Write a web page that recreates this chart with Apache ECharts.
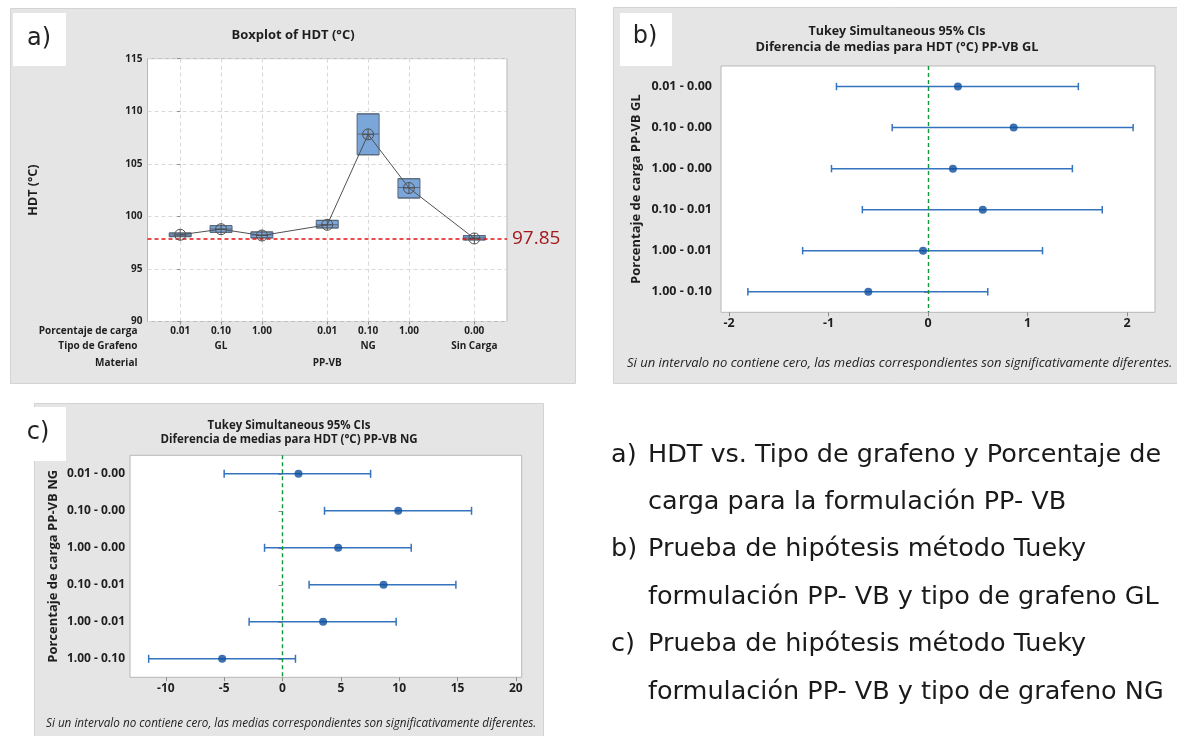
<!DOCTYPE html>
<html>
<head>
<meta charset="utf-8">
<script src="https://cdn.jsdelivr.net/npm/echarts@6/dist/echarts.min.js"></script>
<style>
  html, body { margin: 0; padding: 0; background: #ffffff; }
  #chart { width: 1177px; height: 736px; }
</style>
</head>
<body>
<div id="chart"></div>
<script>
// ---- a) HDT boxplots by loading / graphene type / material ----
const loadLabels = ['0.01', '0.10', '1.00', '0.01', '0.10', '1.00', '0.00'];
const slotPos = [0, 1, 2, 3.6, 4.6, 5.6, 7.2];
const grapheneTypes = ['GL', 'NG', 'Sin Carga'];
const grapheneTypePos = [1, 4.6, 7.2];
const materialLabels = ['PP-VB'];
const materialPos = [3.6];
const hdtQ1 = [98.07, 98.48, 97.95, 98.90, 105.86, 101.75, 97.76];
const hdtMedian = [98.22, 98.80, 98.23, 99.20, 107.83, 102.75, 97.95];
const hdtQ3 = [98.42, 99.12, 98.52, 99.62, 109.75, 103.58, 98.17];
const hdtMean = [98.25, 98.78, 98.18, 99.20, 107.80, 102.70, 97.90];
const refValue = 97.85;
const slotRange = [-0.8, 8.0];

// ---- b) and c) Tukey simultaneous 95% CIs ----
const pairLabels = ['0.01 - 0.00', '0.10 - 0.00', '1.00 - 0.00', '0.10 - 0.01', '1.00 - 0.01', '1.00 - 0.10'];
const glDiff = [0.30, 0.86, 0.25, 0.55, -0.05, -0.60];
const glLower = [-0.92, -0.36, -0.97, -0.66, -1.26, -1.81];
const glUpper = [1.51, 2.06, 1.45, 1.75, 1.15, 0.60];
const glTicks = [-2, -1, 0, 1, 2];
const ngDiff = [1.37, 9.92, 4.77, 8.66, 3.48, -5.17];
const ngLower = [-5.00, 3.60, -1.54, 2.28, -2.86, -11.47];
const ngUpper = [7.55, 16.20, 11.03, 14.86, 9.74, 1.11];
const ngTicks = [-10, -5, 0, 5, 10, 15, 20];

const captionLines = [
  ['a)', 'HDT vs. Tipo de grafeno y Porcentaje de'],
  ['', 'carga para la formulación PP- VB'],
  ['b)', 'Prueba de hipótesis método Tueky'],
  ['', 'formulación PP- VB y tipo de grafeno GL'],
  ['c)', 'Prueba de hipótesis método Tueky'],
  ['', 'formulación PP- VB y tipo de grafeno NG']
];
const footnote = 'Si un intervalo no contiene cero, las medias correspondientes son significativamente diferentes.';

const FONT = '"Open Sans", "Noto Sans", sans-serif';
const CAPTION_FONT = '25.5px "DejaVu Sans", sans-serif';
const INK = '#1e1e1e';
const TICK = '#8c8c8c';
const CI_LINE = '#3473bd';
const CI_DOT = '#0c4e9e';
const REF_RED = '#e31010';
const ZERO_GREEN = '#13953a';

const chart = echarts.init(document.getElementById('chart'), null, { renderer: 'canvas' });

function labelAt(labels, positions) {
  return function (v) {
    for (let i = 0; i < positions.length; i++) {
      if (Math.abs(positions[i] - v) < 1e-6) return labels[i];
    }
    return '';
  };
}

// one row of category text under the boxplot, drawn by its own value axis
function rowAxis(offset, labels, positions, name) {
  return {
    type: 'value', gridIndex: 0, position: 'bottom', offset: offset,
    min: slotRange[0], max: slotRange[1],
    axisLine: { show: false }, axisTick: { show: false }, splitLine: { show: false },
    axisLabel: {
      customValues: positions, formatter: labelAt(labels, positions),
      margin: 0, verticalAlign: 'middle', color: INK, fontSize: 10, fontWeight: 'bold', fontFamily: FONT
    },
    name: name, nameLocation: 'start', nameGap: 10,
    nameTextStyle: { color: INK, fontSize: 10, fontWeight: 'bold', fontFamily: FONT, align: 'right', verticalAlign: 'middle' }
  };
}

function ciRender(capHalf) {
  return function (params, api) {
    const row = api.value(0);
    const p0 = api.coord([api.value(1), row]);
    const p1 = api.coord([api.value(2), row]);
    const st = { stroke: CI_LINE, lineWidth: 1.5 };
    return {
      type: 'group',
      children: [
        { type: 'line', shape: { x1: p0[0], y1: p0[1], x2: p1[0], y2: p1[1] }, style: st },
        { type: 'line', shape: { x1: p0[0], y1: p0[1] - capHalf, x2: p0[0], y2: p0[1] + capHalf }, style: st },
        { type: 'line', shape: { x1: p1[0], y1: p1[1] - capHalf, x2: p1[0], y2: p1[1] + capHalf }, style: st }
      ]
    };
  };
}

// dashed vertical line at zero difference, spanning the full plot height
function zeroSeries(xIdx, yIdx) {
  return {
    type: 'line', xAxisIndex: xIdx, yAxisIndex: yIdx, data: [],
    lineStyle: { color: ZERO_GREEN }, itemStyle: { color: ZERO_GREEN },
    z: 6,
    markLine: {
      silent: true, symbol: 'none',
      lineStyle: { color: ZERO_GREEN, type: [4, 3], width: 1.4 },
      label: { show: false },
      data: [{ xAxis: 0 }]
    }
  };
}

const meanSymbol = 'path://M10 0A10 10 0 1 1 10 20A10 10 0 1 1 10 0ZM0 10L20 10M10 0L10 20';

// background panels, label boxes, titles and captions
const g = [];
function panel(x, y, w, h) {
  g.push({ type: 'rect', z: -100, shape: { x: x, y: y, width: w, height: h },
    style: { fill: '#e5e5e5', stroke: '#d3d3d3', lineWidth: 1 } });
}
function tag(x, y, w, h, text, cx, cy) {
  g.push({ type: 'rect', z: 50, shape: { x: x, y: y, width: w, height: h }, style: { fill: '#ffffff' } });
  g.push({ type: 'text', z: 51, x: cx, y: cy,
    style: { text: text, font: '24px "DejaVu Sans", sans-serif', fill: '#222', align: 'center', verticalAlign: 'middle' } });
}
function txt(x, y, text, font, align, color) {
  g.push({ type: 'text', z: 60, x: x, y: y,
    style: { text: text, font: font, fill: color || INK, align: align || 'center', verticalAlign: 'middle' } });
}
panel(10.5, 8.5, 565, 375);
panel(613.5, 7.5, 570, 376);
panel(34.5, 403.5, 509, 340);
tag(13, 13, 53, 53, 'a)', 39, 39);
tag(620, 13, 52, 53, 'b)', 645, 37);
tag(17, 407, 49, 54, 'c)', 38, 433);

txt(293, 35, 'Boxplot of HDT (°C)', 'bold 13px ' + FONT);
txt(897, 31, 'Tukey Simultaneous 95% CIs', 'bold 12.5px ' + FONT);
txt(897, 47, 'Diferencia de medias para HDT (°C) PP-VB GL', 'bold 12.8px ' + FONT);
txt(289, 425.5, 'Tukey Simultaneous 95% CIs', 'bold 11.5px ' + FONT);
txt(289, 440, 'Diferencia de medias para HDT (°C) PP-VB NG', 'bold 11.5px ' + FONT);
txt(627, 363, footnote, 'italic 13px ' + FONT, 'left');
txt(46, 724, footnote, 'italic 11.7px ' + FONT, 'left');

captionLines.forEach(function (ln, i) {
  const y = 455 + i * 47.4;
  if (ln[0]) txt(611, y, ln[0], CAPTION_FONT, 'left', '#1a1a1a');
  txt(648, y, ln[1], CAPTION_FONT, 'left', '#1a1a1a');
});

const axisLabelStyle = { color: INK, fontWeight: 'bold', fontFamily: FONT };

const option = {
  animation: false,
  backgroundColor: '#ffffff',
  textStyle: { fontFamily: FONT },
  grid: [
    { left: 147.5, top: 58.7, width: 359.5, height: 262.8, show: true, backgroundColor: '#ffffff', borderColor: '#b7b7b7', borderWidth: 1 },
    { left: 721, top: 66, width: 434, height: 246.3, show: true, backgroundColor: '#ffffff', borderColor: '#b7b7b7', borderWidth: 1 },
    { left: 130, top: 455.3, width: 391.7, height: 222, show: true, backgroundColor: '#ffffff', borderColor: '#b7b7b7', borderWidth: 1 }
  ],
  xAxis: [
    { // tick marks and vertical grid lines of the boxplot
      type: 'value', gridIndex: 0, min: slotRange[0], max: slotRange[1],
      axisLine: { show: false },
      axisLabel: { show: false },
      axisTick: { show: true, customValues: slotPos, length: 3, lineStyle: { color: TICK } },
      splitLine: { show: true, lineStyle: { color: '#d9d9d9', type: [4, 3] } }
    },
    rowAxis(10, loadLabels, slotPos, 'Porcentaje de carga'),
    rowAxis(25, grapheneTypes, grapheneTypePos, 'Tipo de Grafeno'),
    rowAxis(42, materialLabels, materialPos, 'Material'),
    {
      type: 'value', gridIndex: 1, min: -2.08, max: 2.28,
      axisLine: { show: false },
      axisTick: { show: true, customValues: glTicks, length: 4, lineStyle: { color: TICK } },
      axisLabel: Object.assign({ customValues: glTicks, fontSize: 12.5, margin: 5 }, axisLabelStyle),
      splitLine: { show: false }
    },
    {
      type: 'value', gridIndex: 2, min: -13.07, max: 20.5,
      axisLine: { show: false },
      axisTick: { show: true, customValues: ngTicks, length: 4, lineStyle: { color: TICK } },
      axisLabel: Object.assign({ customValues: ngTicks, fontSize: 12, margin: 5 }, axisLabelStyle),
      splitLine: { show: false }
    }
  ],
  yAxis: [
    {
      type: 'value', gridIndex: 0, min: 90, max: 115, interval: 5,
      axisLine: { show: false },
      axisTick: { show: true, length: 3, lineStyle: { color: TICK } },
      axisLabel: Object.assign({ fontSize: 10, margin: 5 }, axisLabelStyle),
      splitLine: { show: true, lineStyle: { color: '#d9d9d9', type: [4, 3] } },
      name: 'HDT (°C)', nameLocation: 'middle', nameGap: 108,
      nameTextStyle: { color: INK, fontSize: 12.5, fontWeight: 'bold', fontFamily: FONT }
    },
    {
      type: 'category', gridIndex: 1, data: pairLabels, inverse: true,
      axisLine: { show: false },
      axisTick: { show: true, alignWithLabel: true, length: 4, lineStyle: { color: TICK } },
      axisLabel: Object.assign({ fontSize: 12.5, margin: 9 }, axisLabelStyle),
      splitLine: { show: false },
      name: 'Porcentaje de carga PP-VB GL', nameLocation: 'middle', nameGap: 78,
      nameTextStyle: { color: INK, fontSize: 13, fontWeight: 'bold', fontFamily: FONT }
    },
    {
      type: 'category', gridIndex: 2, data: pairLabels, inverse: true,
      axisLine: { show: false },
      axisTick: { show: true, alignWithLabel: true, length: 4, lineStyle: { color: TICK } },
      axisLabel: Object.assign({ fontSize: 12, margin: 5 }, axisLabelStyle),
      splitLine: { show: false },
      name: 'Porcentaje de carga PP-VB NG', nameLocation: 'middle', nameGap: 70,
      nameTextStyle: { color: INK, fontSize: 13, fontWeight: 'bold', fontFamily: FONT }
    }
  ],
  series: [
    {
      type: 'boxplot', xAxisIndex: 0, yAxisIndex: 0, layout: 'horizontal',
      boxWidth: [22, 22],
      itemStyle: { color: '#7aa6da', borderColor: '#58667a', borderWidth: 1 },
      data: slotPos.map(function (x, i) { return [x, hdtQ1[i], hdtQ1[i], hdtMedian[i], hdtQ3[i], hdtQ3[i]]; }),
      z: 3
    },
    { // reference level of the unloaded material, labelled at its right end
      type: 'line', xAxisIndex: 0, yAxisIndex: 0,
      data: [[slotRange[0], refValue], [slotRange[1], refValue]],
      symbol: 'none', silent: true,
      lineStyle: { color: REF_RED, type: [4, 3], width: 1.5 },
      endLabel: { show: true, distance: 5, formatter: String(refValue), color: '#a3181c', fontSize: 19, fontFamily: FONT },
      z: 4
    },
    {
      type: 'line', xAxisIndex: 0, yAxisIndex: 0,
      data: slotPos.map(function (x, i) { return [x, hdtMean[i]]; }),
      symbol: meanSymbol, symbolSize: 11,
      lineStyle: { color: '#505050', width: 1 },
      itemStyle: { color: 'rgba(0,0,0,0)', borderColor: '#505050', borderWidth: 1 },
      z: 5
    },
    {
      type: 'custom', xAxisIndex: 4, yAxisIndex: 1,
      renderItem: ciRender(3.7),
      encode: { x: [1, 2], y: 0 },
      data: pairLabels.map(function (p, i) { return [i, glLower[i], glUpper[i]]; }),
      z: 3
    },
    {
      type: 'scatter', xAxisIndex: 4, yAxisIndex: 1,
      data: glDiff.map(function (d, i) { return [d, i]; }),
      symbolSize: 8, itemStyle: { color: CI_DOT },
      z: 7
    },
    zeroSeries(4, 1),
    {
      type: 'custom', xAxisIndex: 5, yAxisIndex: 2,
      renderItem: ciRender(4),
      encode: { x: [1, 2], y: 0 },
      data: pairLabels.map(function (p, i) { return [i, ngLower[i], ngUpper[i]]; }),
      z: 3
    },
    {
      type: 'scatter', xAxisIndex: 5, yAxisIndex: 2,
      data: ngDiff.map(function (d, i) { return [d, i]; }),
      symbolSize: 8, itemStyle: { color: CI_DOT },
      z: 7
    },
    zeroSeries(5, 2)
  ],
  graphic: { elements: g }
};

chart.setOption(option);
</script>
</body>
</html>
